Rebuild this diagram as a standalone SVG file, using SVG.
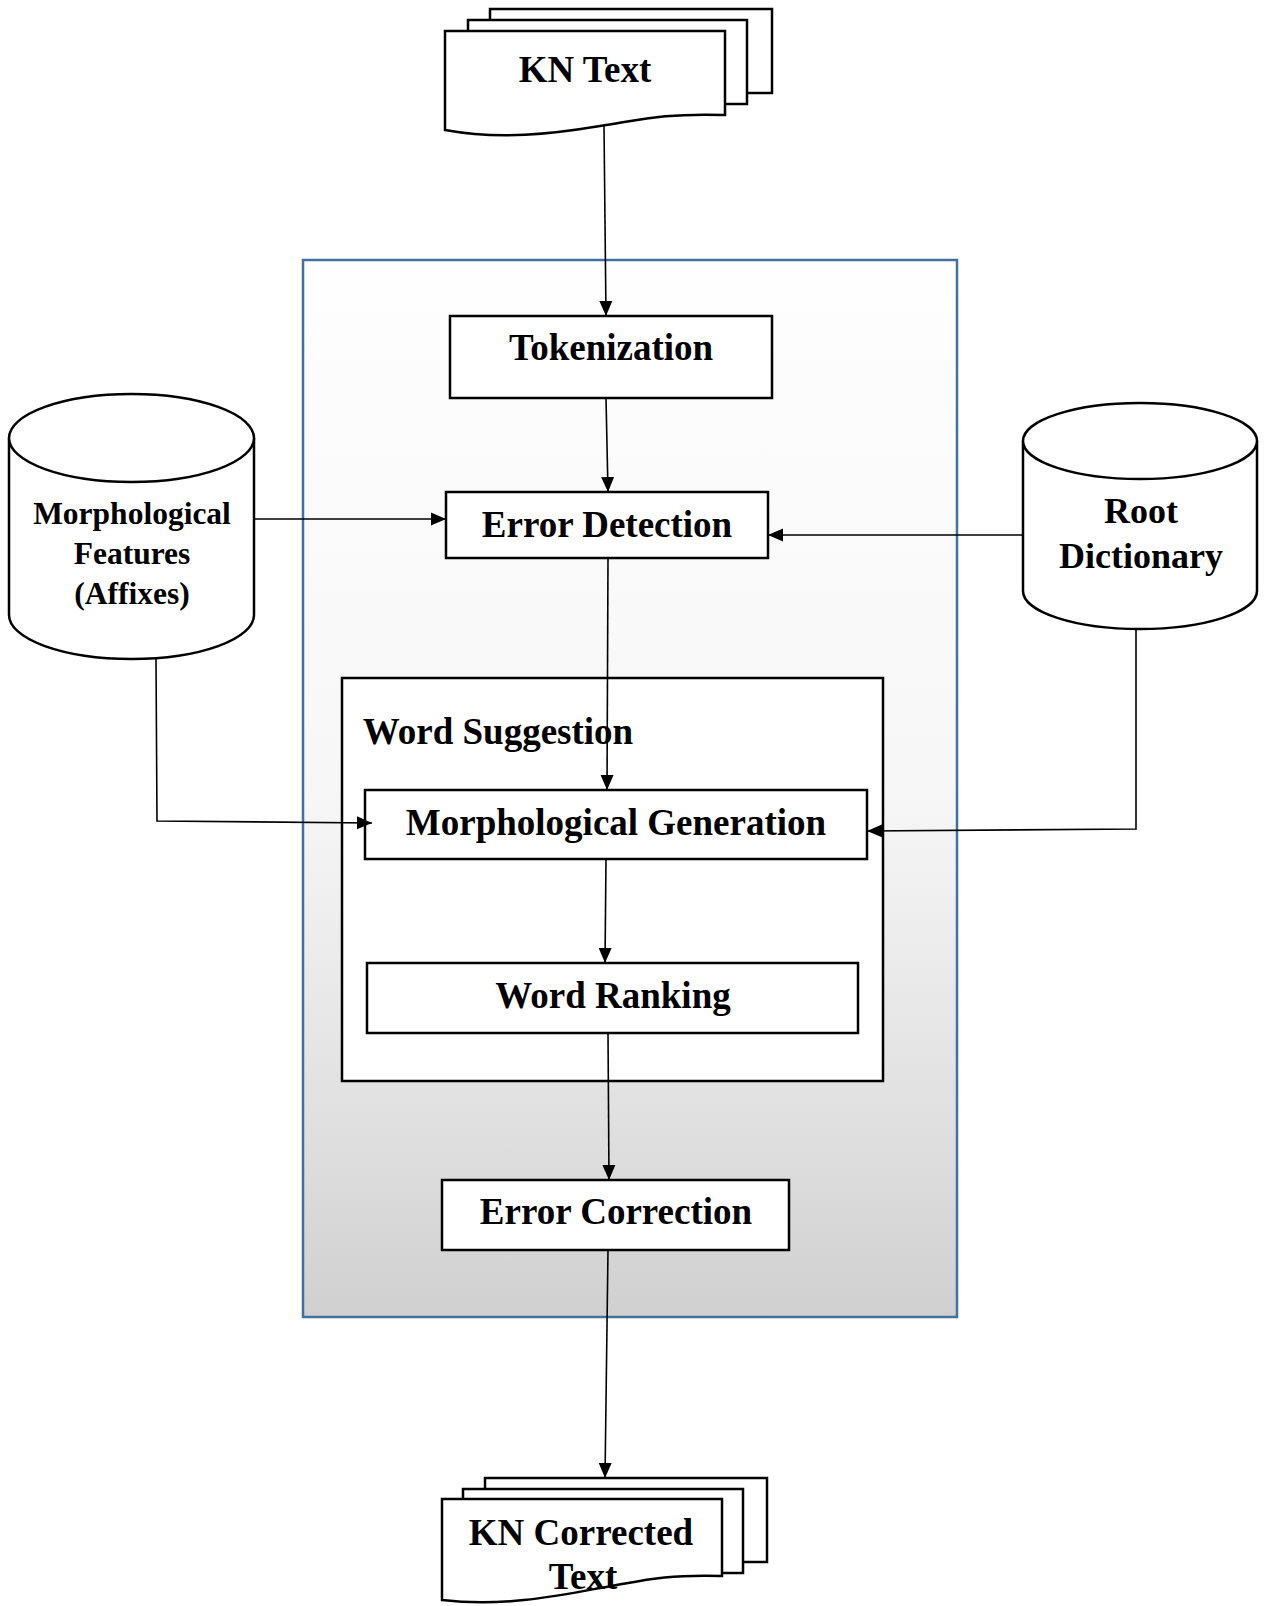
<svg xmlns="http://www.w3.org/2000/svg" width="1265" height="1606" viewBox="0 0 1265 1606">
<style>
.box{fill:#fff;stroke:#000;stroke-width:2.5}
.sheet{fill:#fff;stroke:#000;stroke-width:2.5;stroke-linejoin:miter}
.t{font-family:"Liberation Serif","Times New Roman",serif;font-weight:bold;fill:#000;text-anchor:middle}
.t37{font-size:37px}
.t36{font-size:36px}
.t32{font-size:31.5px}
.conn{fill:none;stroke:#000;stroke-width:1.6}
</style>
<defs>
<linearGradient id="bg" x1="0" y1="0" x2="0" y2="1">
<stop offset="0" stop-color="#fefefe"/>
<stop offset="0.5" stop-color="#f7f7f7"/>
<stop offset="0.8" stop-color="#e1e1e1"/>
<stop offset="1" stop-color="#d0d0d0"/>
</linearGradient>
<marker id="ah" markerWidth="16" markerHeight="14" refX="15" refY="7" orient="auto" markerUnits="userSpaceOnUse">
<path d="M0,0.5 L15,7 L0,13.5 Z" fill="#000"/>
</marker>
</defs>
<rect width="1265" height="1606" fill="#fff"/>
<g id="container">
<rect x="303" y="260" width="654" height="1057" fill="url(#bg)" stroke="#41719c" stroke-width="2.5"/>
</g>
<g id="word-suggestion">
<rect class="box" x="342" y="678" width="541" height="403"/>
<text class="t t37" x="498" y="744">Word Suggestion</text>
</g>
<g id="kn-text">
<rect class="sheet" x="490" y="9" width="282" height="84"/>
<rect class="sheet" x="468" y="20" width="279" height="84"/>
<path class="sheet" d="M445,31 H725 V115 C662,113 640,120 600,126 C552,134 500,140 445,130 Z"/>
<text class="t t37" x="585" y="82">KN Text</text>
</g>
<g id="tokenization">
<rect class="box" x="450" y="316" width="322" height="82"/>
<text class="t t37" x="611" y="360">Tokenization</text>
</g>
<g id="error-detection">
<rect class="box" x="446" y="492" width="322" height="66"/>
<text class="t t37" x="607" y="537">Error Detection</text>
</g>
<g id="morph-features">
<path class="box" d="M9,438 A122.5,44 0 0,1 254,438 V615 A122.5,44 0 0,1 9,615 Z"/>
<path class="box" fill="none" d="M9,438 A122.5,44 0 0,0 254,438"/>
<text class="t t32" x="132" y="524">Morphological</text>
<text class="t t32" x="132" y="564">Features</text>
<text class="t t32" x="132" y="604">(Affixes)</text>
</g>
<g id="root-dictionary">
<path class="box" d="M1023,441 A117,38 0 0,1 1257,441 V591 A117,38 0 0,1 1023,591 Z"/>
<path class="box" fill="none" d="M1023,441 A117,38 0 0,0 1257,441"/>
<text class="t t36" x="1141" y="523">Root</text>
<text class="t t36" x="1141" y="568">Dictionary</text>
</g>
<g id="morph-generation">
<rect class="box" x="365" y="790" width="502" height="69"/>
<text class="t t37" x="616" y="835">Morphological Generation</text>
</g>
<g id="word-ranking">
<rect class="box" x="367" y="963" width="491" height="70"/>
<text class="t t37" x="613" y="1008">Word Ranking</text>
</g>
<g id="error-correction">
<rect class="box" x="442" y="1180" width="347" height="70"/>
<text class="t t37" x="616" y="1224">Error Correction</text>
</g>
<g id="kn-corrected">
<rect class="sheet" x="485" y="1478" width="282" height="84"/>
<rect class="sheet" x="463" y="1489" width="280" height="84"/>
<path class="sheet" d="M442,1499 H722 V1576 C660,1574 638,1582 600,1588 C552,1597 500,1607 442,1600 Z"/>
<text class="t t37" x="581" y="1545">KN Corrected</text>
<text class="t t37" x="583" y="1589">Text</text>
</g>
<g id="connectors">
<path class="conn" d="M604,126 L606,316" marker-end="url(#ah)"/>
<path class="conn" d="M606,398 L608,492" marker-end="url(#ah)"/>
<path class="conn" d="M254,519 L446,519" marker-end="url(#ah)"/>
<path class="conn" d="M1023,535 L768,535" marker-end="url(#ah)"/>
<path class="conn" d="M608,558 L607,790" marker-end="url(#ah)"/>
<path class="conn" d="M156,659 L157,821 L372,823" marker-end="url(#ah)"/>
<path class="conn" d="M1136,629 L1136,829 L867,831" marker-end="url(#ah)"/>
<path class="conn" d="M606,859 L605,963" marker-end="url(#ah)"/>
<path class="conn" d="M608,1033 L609,1180" marker-end="url(#ah)"/>
<path class="conn" d="M608,1250 L605,1478" marker-end="url(#ah)"/>
</g>
</svg>
